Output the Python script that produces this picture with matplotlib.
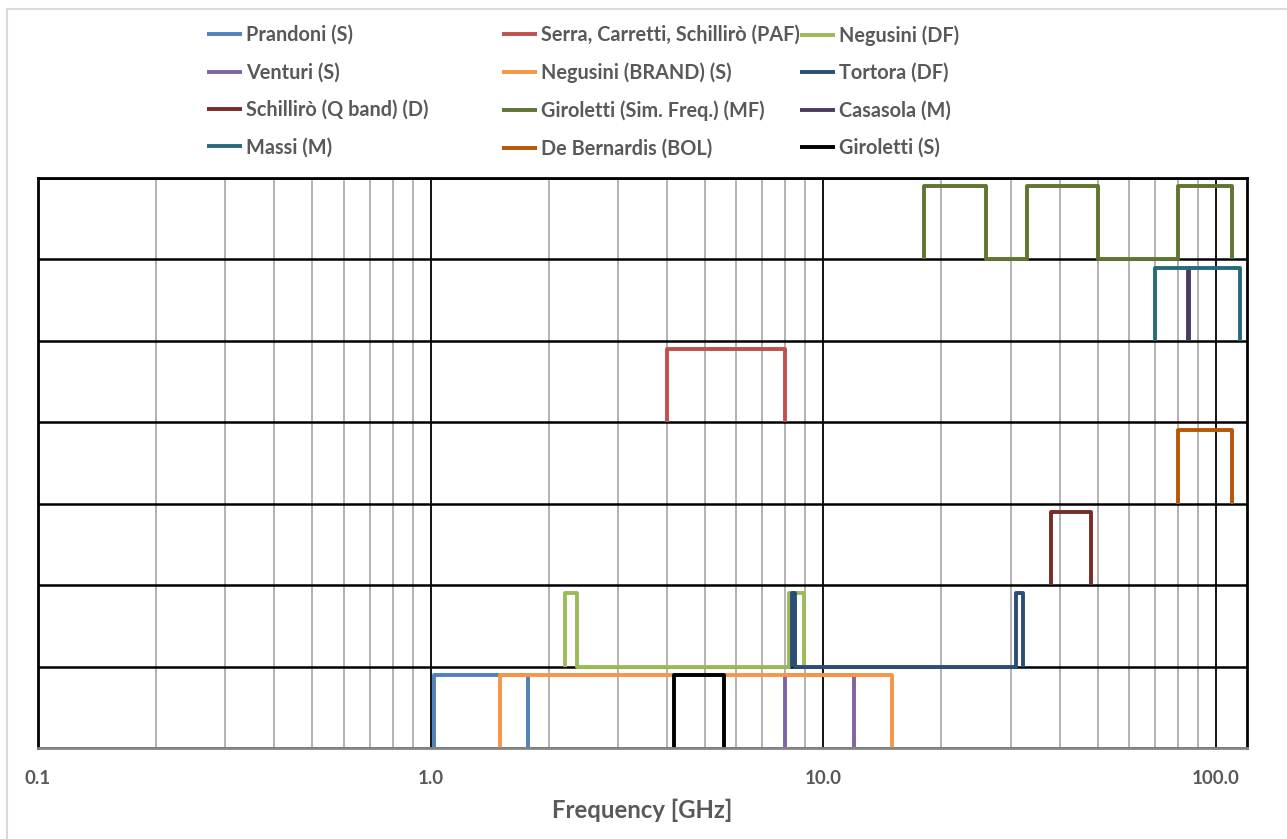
import matplotlib
matplotlib.use("Agg")
import matplotlib.pyplot as plt
from matplotlib.ticker import FixedLocator, FixedFormatter, LogLocator, NullFormatter
from matplotlib.patches import Rectangle

# series names (legend order, row by row)
names = [
    "Prandoni (S)", "Serra, Carretti, Schillirò (PAF)", "Negusini (DF)",
    "Venturi (S)", "Negusini (BRAND) (S)", "Tortora (DF)",
    "Schillirò (Q band) (D)", "Giroletti (Sim. Freq.) (MF)", "Casasola (M)",
    "Massi (M)", "De Bernardis (BOL)", "Giroletti (S)",
]
colors = [
    "#4F81BD", "#C0504D", "#9BBB59",
    "#8064A2", "#F79646", "#2C4D75",
    "#772C2A", "#5F7530", "#4D3B62",
    "#276A7C", "#B65708", "#000000",
]

# frequency [GHz] / row level of each receiver band outline
prandoni_f = [1.02, 1.02, 1.77, 1.77]
prandoni_y = [0, 0.9, 0.9, 0]
serra_f = [4.0, 4.0, 8.0, 8.0]
serra_y = [4, 4.9, 4.9, 4]
negusini_df_f = [2.2, 2.2, 2.36, 2.36, 8.2, 8.2, 8.95, 8.95]
negusini_df_y = [1, 1.9, 1.9, 1, 1, 1.9, 1.9, 1]
venturi_f = [8.0, 8.0, 12.0, 12.0]
venturi_y = [0, 0.9, 0.9, 0]
negusini_brand_f = [1.5, 1.5, 15.0, 15.0]
negusini_brand_y = [0, 0.9, 0.9, 0]
tortora_f = [8.3, 8.3, 8.45, 8.45, 31.0, 31.0, 32.3, 32.3]
tortora_y = [1, 1.9, 1.9, 1, 1, 1.9, 1.9, 1]
schilliro_f = [38.0, 38.0, 48.0, 48.0]
schilliro_y = [2, 2.9, 2.9, 2]
giroletti_mf_f = [18, 18, 26, 26, 33, 33, 50, 50, 80, 80, 110, 110]
giroletti_mf_y = [6, 6.9, 6.9, 6, 6, 6.9, 6.9, 6, 6, 6.9, 6.9, 6]
casasola_f = [85.0, 85.0, 85.5, 85.5]
casasola_y = [5, 5.9, 5.9, 5]
massi_f = [70.0, 70.0, 115.0, 115.0]
massi_y = [5, 5.9, 5.9, 5]
debernardis_f = [80.0, 80.0, 110.0, 110.0]
debernardis_y = [3, 3.9, 3.9, 3]
giroletti_s_f = [4.17, 4.17, 5.6, 5.6]
giroletti_s_y = [0, 0.9, 0.9, 0]

freqs = [prandoni_f, serra_f, negusini_df_f, venturi_f, negusini_brand_f, tortora_f,
         schilliro_f, giroletti_mf_f, casasola_f, massi_f, debernardis_f, giroletti_s_f]
levels = [prandoni_y, serra_y, negusini_df_y, venturi_y, negusini_brand_y, tortora_y,
          schilliro_y, giroletti_mf_y, casasola_y, massi_y, debernardis_y, giroletti_s_y]

xticks = [0.1, 1, 10, 100]
xtick_labels = ["0.1", "1.0", "10.0", "100.0"]

FONT = "Lato"
TXT = "#595959"

fig = plt.figure(figsize=(12.87, 8.39), dpi=100)
W, H = 1287, 839
ax = fig.add_axes([38 / W, 1 - 748 / H, (1247 - 38) / W, (748 - 178) / H])

handles = []
for f, y, c, n in zip(freqs, levels, colors, names):
    ln, = ax.plot(f, y, color=c, lw=2.8, label=n,
                  solid_joinstyle="round", solid_capstyle="butt")
    handles.append(ln)

ax.set_xscale("log")
ax.set_xlim(0.1, 120)
ax.set_ylim(0, 7)
ax.xaxis.set_major_locator(FixedLocator(xticks))
ax.xaxis.set_major_formatter(FixedFormatter(xtick_labels))
ax.xaxis.set_minor_locator(LogLocator(base=10, subs=range(2, 10)))
ax.xaxis.set_minor_formatter(NullFormatter())
ax.set_yticks(range(0, 8))
ax.set_yticklabels([])
ax.tick_params(axis="both", which="both", length=0)
ax.tick_params(axis="x", pad=16, labelsize=13.5, labelcolor=TXT)
for lab in ax.get_xticklabels():
    lab.set_fontfamily(FONT)
    lab.set_fontweight("bold")

ax.set_axisbelow(True)
ax.grid(True, axis="x", which="major", color="black", lw=1.3)
ax.grid(True, axis="x", which="minor", color="#a6a6a6", lw=1.2)
ax.grid(True, axis="y", which="major", color="black", lw=1.8)

for side in ["left", "right", "top"]:
    ax.spines[side].set_color("black")
    ax.spines[side].set_linewidth(2)
ax.spines["bottom"].set_color("#868686")
ax.spines["bottom"].set_linewidth(2)

ax.set_xlabel("Frequency [GHz]", fontsize=17.2, fontweight="bold",
              color=TXT, family=FONT, labelpad=8)

# legend: three columns laid out like the spreadsheet legend
col_x = [207, 502, 800]
for k in range(3):
    lg = fig.legend(handles=handles[k::3], labels=names[k::3],
                    loc="upper left", bbox_to_anchor=(col_x[k] / W, 1 - 25 / H),
                    frameon=False, borderpad=0, borderaxespad=0,
                    handlelength=1.76, handletextpad=0.2, labelspacing=0.88,
                    prop={"family": FONT, "weight": "bold", "size": 14.3})
    for t in lg.get_texts():
        t.set_color(TXT)

# outer chart border
fig.add_artist(Rectangle((7 / W, -0.02), 1.1, 1.02 - 9 / H, transform=fig.transFigure,
                         fill=False, ec="#d9d9d9", lw=1.5))

fig.savefig("out.png", dpi=100)
